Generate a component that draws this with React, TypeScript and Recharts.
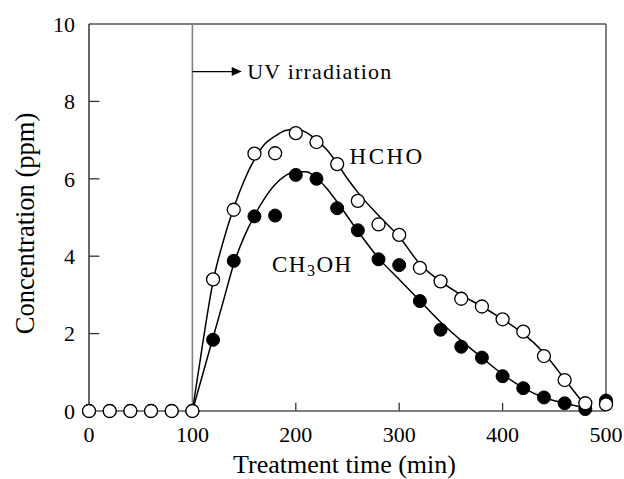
import React from 'react';
import { ComposedChart, Line, Scatter, XAxis, YAxis, ReferenceLine, ReferenceDot, Label } from 'recharts';

const FONT = '"Liberation Serif", "Times New Roman", serif';

const xTicks = [0, 100, 200, 300, 400, 500];
const yTicks = [0, 2, 4, 6, 8, 10];
const innerXTicks = [200, 300, 400];
const innerYTicks = [2, 4, 6, 8];

const sampleTimes = [0, 20, 40, 60, 80, 100, 120, 140, 160, 180, 200, 220, 240, 260, 280, 300, 320, 340, 360, 380, 400, 420, 440, 460, 480, 500];
const hchoMeasured = [0, 0, 0, 0, 0, 0, 3.4, 5.2, 6.65, 6.66, 7.18, 6.95, 6.38, 5.43, 4.82, 4.55, 3.7, 3.35, 2.9, 2.7, 2.37, 2.05, 1.42, 0.8, 0.2, 0.17];
const ch3ohMeasured = [0, 0, 0, 0, 0, 0, 1.84, 3.88, 5.03, 5.05, 6.1, 6.0, 5.24, 4.67, 3.92, 3.77, 2.84, 2.1, 1.66, 1.38, 0.9, 0.59, 0.35, 0.2, 0.05, 0.27];

const hchoFitTimes = [100, 110, 120, 130, 140, 150, 160, 170, 180, 190, 200, 210, 220, 230, 240, 250, 260, 280, 300, 320, 340, 360, 380, 400, 420, 440, 460, 480, 485];
const hchoFitVals = [0, 1.75, 3.35, 4.4, 5.25, 5.95, 6.5, 6.9, 7.1, 7.25, 7.28, 7.2, 7.0, 6.75, 6.4, 6.0, 5.65, 5.05, 4.5, 3.8, 3.35, 3.0, 2.7, 2.37, 2.0, 1.5, 0.82, 0.15, 0];

const ch3ohFitTimes = [100, 110, 120, 130, 140, 150, 160, 170, 180, 190, 200, 210, 220, 230, 240, 260, 280, 300, 320, 340, 360, 380, 400, 420, 440, 460, 480];
const ch3ohFitVals = [0, 0.95, 1.9, 2.85, 3.8, 4.5, 5.05, 5.5, 5.85, 6.08, 6.18, 6.18, 6.02, 5.75, 5.4, 4.65, 3.95, 3.4, 2.85, 2.3, 1.82, 1.38, 0.95, 0.6, 0.35, 0.2, 0.08];

const uvStart = 100;
const arrowTip = { t: 147.7, v: 8.77 };
const uvLabelPos = { t: 153, v: 8.77 };
const hchoLabelPos = { t: 252, v: 6.6 };
const ch3ohLabelPos = { t: 177, v: 3.8 };

const toPts = (ts: number[], vs: number[]) => ts.map((t, i) => ({ t, v: vs[i] }));
const hchoPts = toPts(sampleTimes, hchoMeasured);
const ch3ohPts = toPts(sampleTimes, ch3ohMeasured);
const hchoFit = toPts(hchoFitTimes, hchoFitVals);
const ch3ohFit = toPts(ch3ohFitTimes, ch3ohFitVals);

const AXIS = '#555';

const OpenDot = (p: any) => <circle cx={p.cx} cy={p.cy} r={6.5} fill="#fff" stroke="#000" strokeWidth={1.3} />;
const FilledDot = (p: any) => <circle cx={p.cx} cy={p.cy} r={6.5} fill="#000" stroke="#000" strokeWidth={1} />;

export default function App() {
  return (
    <div style={{ position: 'fixed', left: 0, top: 0, width: 624, height: 479, background: '#fff' }}>
      <ComposedChart width={624} height={479} margin={{ top: 24, right: 18, left: 19, bottom: 8 }}>
        <XAxis
          type="number"
          dataKey="t"
          domain={[0, 500]}
          ticks={xTicks}
          allowDuplicatedCategory={false}
          height={60}
          tickLine={false}
          tickSize={0}
          tickMargin={15}
          axisLine={{ stroke: AXIS, strokeWidth: 1.5 }}
          tick={{ fontSize: 22, fill: '#000', fontFamily: FONT }}
        >
          <Label
            content={(props: any) => {
              const vb = props.viewBox;
              return (
                <text x={vb.x + vb.width / 2 - 3} y={vb.y + 62} textAnchor="middle" fontSize={26} fontFamily={FONT} fill="#000">
                  Treatment time (min)
                </text>
              );
            }}
          />
        </XAxis>
        <YAxis
          type="number"
          dataKey="v"
          domain={[0, 10]}
          ticks={yTicks}
          width={70}
          tickLine={false}
          tickSize={0}
          tickMargin={14}
          axisLine={{ stroke: '#333', strokeWidth: 1.5 }}
          tick={{ fontSize: 22, fill: '#000', fontFamily: FONT }}
        >
          <Label
            content={(props: any) => {
              const vb = props.viewBox;
              const x = vb.x + 15;
              const y = vb.y + vb.height / 2 + 6;
              return (
                <text x={x} y={y} transform={`rotate(-90 ${x} ${y})`} textAnchor="middle" fontSize={26.5} fontFamily={FONT} fill="#000">
                  Concentration (ppm)
                </text>
              );
            }}
          />
        </YAxis>

        <ReferenceLine y={10} stroke={AXIS} strokeWidth={1.5} />
        <ReferenceLine x={500} stroke={AXIS} strokeWidth={1.5} />
        <ReferenceLine x={uvStart} stroke="#808080" strokeWidth={1.6} />
        {innerXTicks.map((t) => (
          <ReferenceLine key={'xt' + t} segment={[{ x: t, y: 0 }, { x: t, y: 0.21 }]} stroke="#333" strokeWidth={1.3} />
        ))}
        {innerYTicks.map((v) => (
          <ReferenceLine key={'yt' + v} segment={[{ x: 0, y: v }, { x: 10, y: v }]} stroke="#333" strokeWidth={1.3} />
        ))}
        <ReferenceLine segment={[{ x: uvStart, y: arrowTip.v }, { x: arrowTip.t - 6, y: arrowTip.v }]} stroke="#000" strokeWidth={1.3} />
        <ReferenceDot
          x={arrowTip.t}
          y={arrowTip.v}
          r={0}
          shape={(p: any) => (
            <polygon points={`${p.cx},${p.cy} ${p.cx - 10},${p.cy - 4.5} ${p.cx - 10},${p.cy + 4.5}`} fill="#000" />
          )}
        />
        <ReferenceDot
          x={uvLabelPos.t}
          y={uvLabelPos.v}
          r={0}
          shape={(p: any) => (
            <text x={p.cx} y={p.cy + 7.5} fontSize={22} fontFamily={FONT} letterSpacing={1.2} fill="#000">
              UV irradiation
            </text>
          )}
        />
        <ReferenceDot
          x={hchoLabelPos.t}
          y={hchoLabelPos.v}
          r={0}
          shape={(p: any) => (
            <text x={p.cx} y={p.cy + 8} fontSize={23} fontFamily={FONT} letterSpacing={2.5} fill="#000">
              HCHO
            </text>
          )}
        />
        <ReferenceDot
          x={ch3ohLabelPos.t}
          y={ch3ohLabelPos.v}
          r={0}
          shape={(p: any) => (
            <text x={p.cx} y={p.cy + 8} fontSize={23} fontFamily={FONT} letterSpacing={1.5} fill="#000">
              CH<tspan fontSize={16} dy={4}>3</tspan><tspan dy={-4}>OH</tspan>
            </text>
          )}
        />

        <Line data={hchoFit} dataKey="v" type="monotone" stroke="#000" strokeWidth={1.5} dot={false} activeDot={false} isAnimationActive={false} />
        <Line data={ch3ohFit} dataKey="v" type="monotone" stroke="#000" strokeWidth={1.5} dot={false} activeDot={false} isAnimationActive={false} />
        <Scatter data={ch3ohPts} dataKey="v" shape={FilledDot} isAnimationActive={false} />
        <Scatter data={hchoPts} dataKey="v" shape={OpenDot} isAnimationActive={false} />
      </ComposedChart>
    </div>
  );
}
